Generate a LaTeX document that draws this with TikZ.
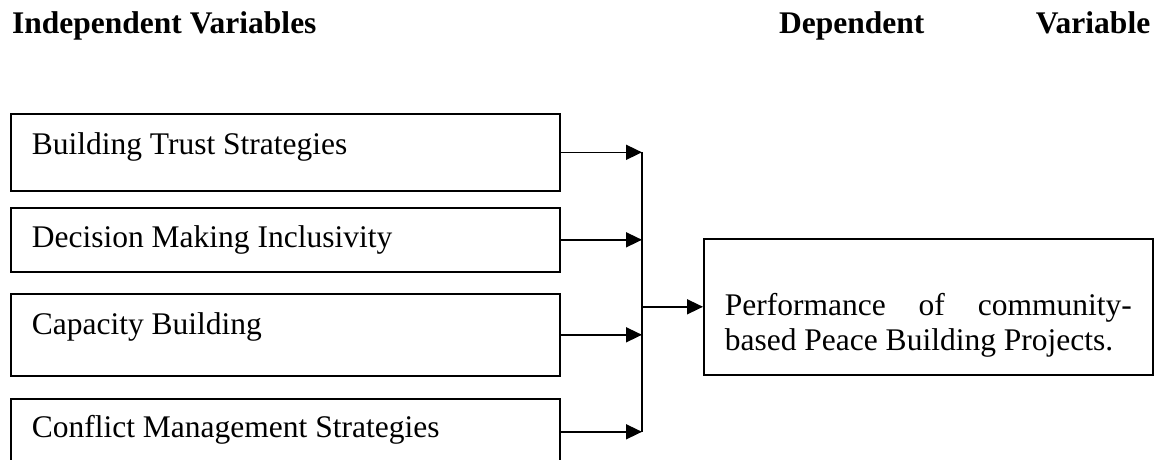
\documentclass[tikz,border=0pt]{standalone}
\usepackage{fontspec}
\setmainfont{Liberation Serif}
\usetikzlibrary{arrows.meta}
\newcommand{\bodyfont}{\fontsize{31.5}{35}\selectfont}
\newcommand{\inbox}[4]{\parbox[c][#2][t]{#1}{\rule{0pt}{#3}#4}}
\tikzset{
  varbox/.style={draw, line width=1.6pt, anchor=north west, inner xsep=21pt, inner ysep=0pt, font=\bodyfont},
  head/.style={anchor=base west, inner sep=0pt, font=\bodyfont\bfseries},
  conn/.style={line width=1.6pt},
  arr/.style={conn, -{Triangle[length=16pt,width=15pt]}}
}
\begin{document}
\begin{tikzpicture}[x=1pt,y=-1pt]
\useasboundingbox (0,0) rectangle (1162,459);
\clip (0,0) rectangle (1162,459);
\node[head] (indep) at (12,33) {Independent Variables};
\node[head, text width=371pt] (dep) at (779,33) {Dependent\hfill Variable};
\node[varbox] (b1) at (10,113) {\inbox{507pt}{77pt}{41pt}{Building Trust Strategies}};
\node[varbox] (b2) at (10,207) {\inbox{507pt}{64pt}{40pt}{Decision Making Inclusivity}};
\node[varbox] (b3) at (10,293) {\inbox{507pt}{82pt}{41pt}{Capacity Building}};
\node[varbox] (b4) at (10,398) {\inbox{507pt}{66pt}{39pt}{Conflict Management Strategies}};
\node[varbox] (out) at (703,238) {\inbox{407pt}{136pt}{77pt}{Performance of community-\linebreak based Peace Building Projects.}};
\coordinate (bus) at (642,0);
\draw[arr] (b1.east) -- (b1.east -| bus);
\draw[arr] (b2.east) -- (b2.east -| bus);
\draw[arr] (b3.east) -- (b3.east -| bus);
\draw[arr] (b4.east) -- (b4.east -| bus);
\draw[conn] (b1.east -| bus) -- (b4.east -| bus);
\draw[arr] (out.west -| bus) -- (out.west);
\end{tikzpicture}
\end{document}
